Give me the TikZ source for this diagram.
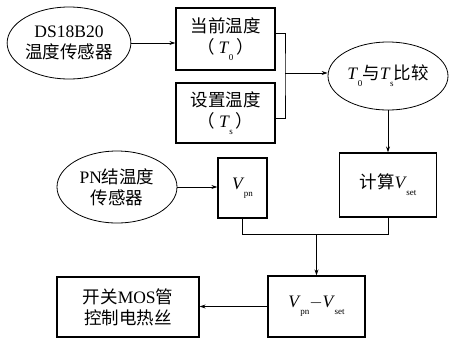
\documentclass[tikz,border=0pt]{standalone}
\usepackage{fontspec}
\setmainfont{Liberation Serif}
\newfontfamily\cjk{Noto Sans CJK SC}
\usetikzlibrary{shapes.geometric,arrows.meta}
\newcommand\vsub[2]{\textit{#1}\kern-0.5pt\raisebox{-0.4em}{\fontsize{9}{9}\selectfont #2}}
\tikzset{
  txt/.style={font=\fontsize{17.5}{21}\selectfont, align=center, inner sep=0pt},
  ell/.style={txt, ellipse, draw, line width=0.8pt},
  box/.style={txt, rectangle, draw, line width=1.2pt},
  conn/.style={line width=0.8pt},
  arr/.style={conn, -{Stealth[length=6pt,width=4pt]}}
}
\begin{document}
\begin{tikzpicture}[x=1pt,y=-1pt]
\useasboundingbox (0,0) rectangle (449,338);
\node[ell, minimum width=122pt, minimum height=72pt] (s1) at (69,43) {DS18B20\\{\cjk 温度传感器}};
\node[box, minimum width=99pt, minimum height=62pt] (t0) at (225.5,39) {{\cjk 当前温度}\\{\cjk （}\hspace{4pt}\vsub{T}{0}\hspace{3pt}{\cjk ）}};
\node[box, minimum width=99pt, minimum height=60pt] (ts) at (225.5,113) {{\cjk 设置温度}\\{\cjk （}\hspace{4pt}\vsub{T}{s}\hspace{3pt}{\cjk ）}};
\node[ell, minimum width=120pt, minimum height=68pt] (cmp) at (388,76) {\vsub{T}{0}{\cjk 与}\vsub{T}{s}{\cjk 比较}};
\node[box, minimum width=97pt, minimum height=64pt] (calc) at (388,185) {{\cjk 计算}\vsub{V}{set}};
\node[box, minimum width=49pt, minimum height=60pt] (vpn) at (242.5,188) {\vsub{V}{pn}};
\node[ell, minimum width=120pt, minimum height=72pt] (s2) at (117,187) {PN{\cjk 结温度}\\{\cjk 传感器}};
\node[box, minimum width=97pt, minimum height=61pt] (diff) at (316.5,306.5) {\vsub{V}{pn}$-$\vsub{V}{set}};
\node[box, minimum width=142pt, minimum height=60pt] (mos) at (128,307) {{\cjk 开关}MOS{\cjk 管}\\{\cjk 控制电热丝}};
\coordinate (j1) at (285,73);
\coordinate (j2) at (316.5,234);
\draw[arr] (s1.east) -- (t0.west |- s1.east);
\draw[conn] ([yshift=6pt]t0.east) -| (j1) |- ([yshift=-5pt]ts.east);
\draw[arr] (j1) -- (cmp.west |- j1);
\draw[arr] (cmp.south) -- (calc.north);
\draw[arr] (s2.east) -- (vpn.west |- s2.east);
\draw[conn] (vpn.south) -- (vpn.south |- j2) -| (calc.south);
\draw[arr] (j2) -- (diff.north);
\draw[arr] (diff.west) -- (mos.east |- diff.west);
\end{tikzpicture}
\end{document}
